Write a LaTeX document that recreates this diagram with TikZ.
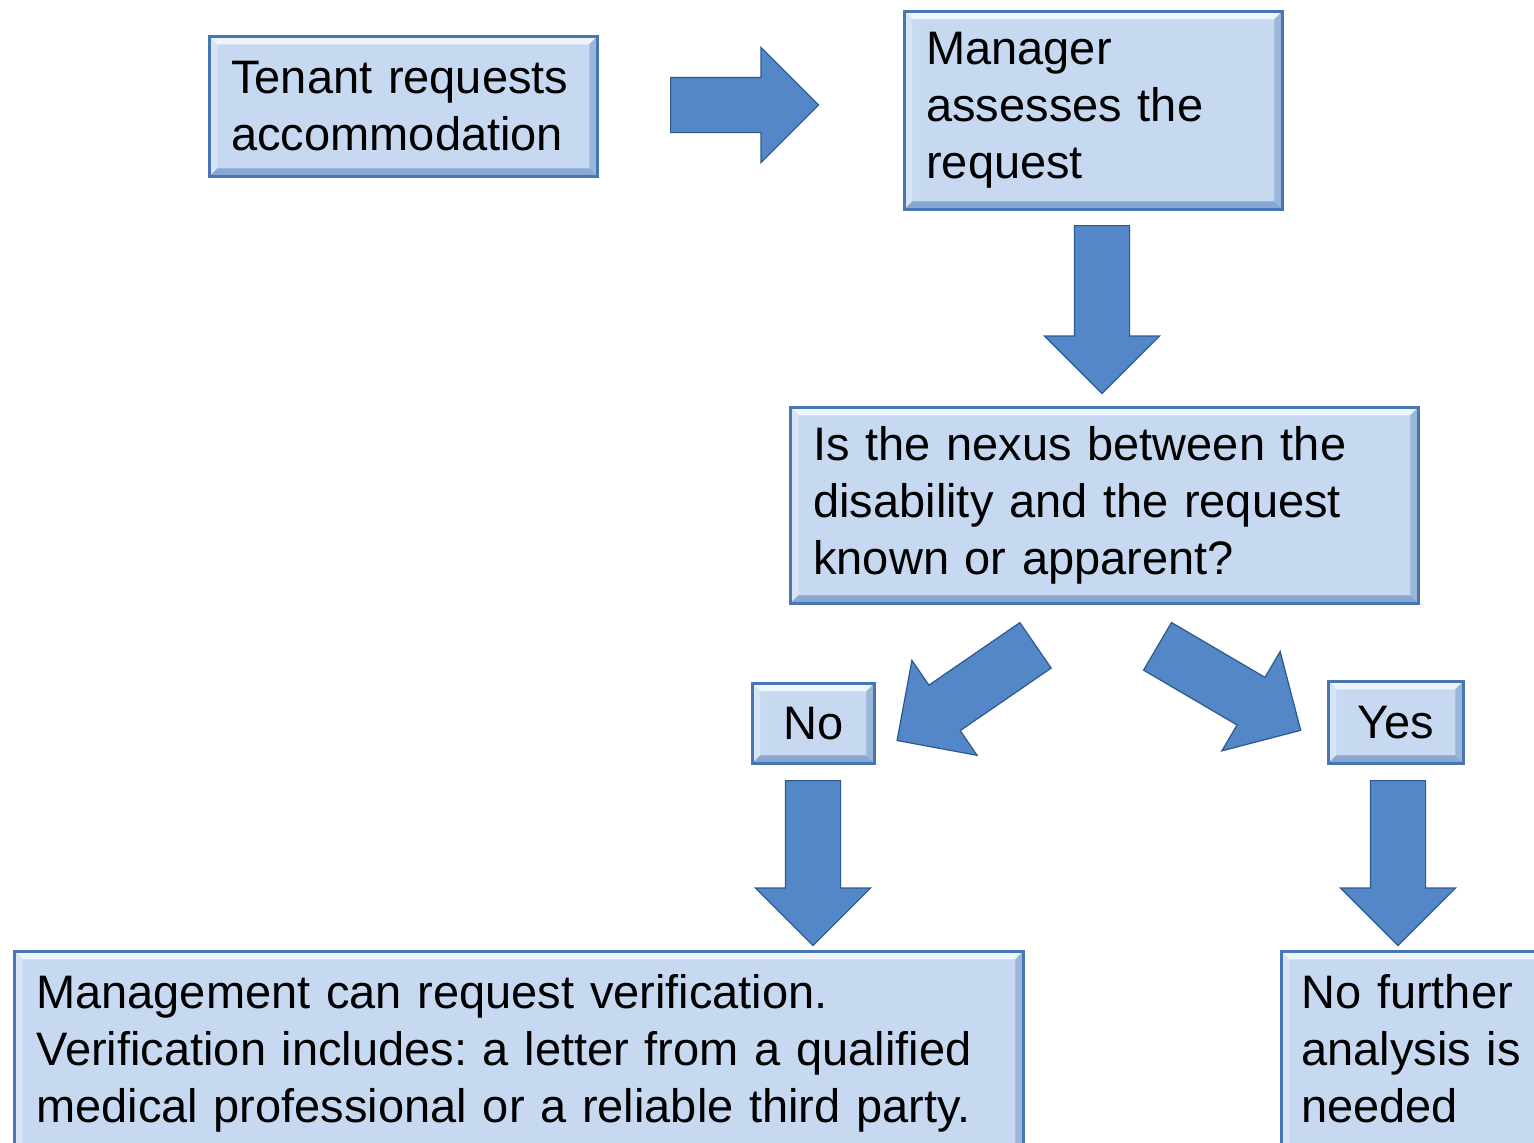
\documentclass[tikz,border=0pt]{standalone}
\usepackage{fontspec}
\setmainfont{Liberation Sans}
\usetikzlibrary{shapes.arrows,calc}
\definecolor{boxfill}{RGB}{198,217,241}
\definecolor{boxedge}{RGB}{72,118,178}
\definecolor{arrowfill}{RGB}{84,135,199}
\definecolor{arrowedge}{RGB}{45,88,140}
\tikzset{
  stepbox/.style={draw=boxedge, line width=1.3pt, fill=boxfill, anchor=north west,
    inner xsep=11pt, inner ysep=0pt, align=left,
    font=\fontsize{23.5pt}{28.5pt}\selectfont\frenchspacing,
    path picture={
      \coordinate (bbnw) at (path picture bounding box.north west);
      \coordinate (bbne) at (path picture bounding box.north east);
      \coordinate (bbsw) at (path picture bounding box.south west);
      \coordinate (bbse) at (path picture bounding box.south east);
      \fill[white!70!boxfill] (bbnw) -- (bbne) -- ([shift={(-4pt,-4pt)}]bbne) -- ([shift={(4pt,-4pt)}]bbnw) -- cycle;
      \fill[white!30!boxfill] (bbnw) -- (bbsw) -- ([shift={(4pt,4pt)}]bbsw) -- ([shift={(4pt,-4pt)}]bbnw) -- cycle;
      \fill[boxfill!65!boxedge] (bbne) -- (bbse) -- ([shift={(-4pt,4pt)}]bbse) -- ([shift={(-4pt,-4pt)}]bbne) -- cycle;
      \fill[boxfill!50!boxedge] (bbsw) -- (bbse) -- ([shift={(-4pt,4pt)}]bbse) -- ([shift={(4pt,4pt)}]bbsw) -- cycle;
    }},
  smallbox/.style={stepbox, align=center, inner xsep=0pt},
  blockarrow/.style={single arrow, draw=arrowedge, fill=arrowfill, line width=0.6pt,
    inner xsep=0pt, inner ysep=13.5pt, single arrow head extend=15pt, anchor=tail}
}
\begin{document}
\begin{tikzpicture}[x=0.5pt,y=-0.5pt]
\useasboundingbox (0,0) rectangle (1534,1142);
\fill[white] (0,0) rectangle (1534,1142);

% boxes
\node[stepbox, minimum width=194pt, minimum height=70pt, text width=172pt] (tenant) at (208,35) {Tenant requests\\accommodation};
\node[stepbox, minimum width=189pt, minimum height=99pt, text width=167pt] (manager) at (903,10) {Manager\\assesses the\\request};
\node[stepbox, minimum width=314pt, minimum height=98pt, text width=291pt, inner xsep=11.5pt] (nexus) at (789,406) {Is the nexus between the\\disability and the request\\known or apparent?};
\node[smallbox, minimum width=61pt, minimum height=40pt] (no) at (751,682) {No};
\node[smallbox, minimum width=67.5pt, minimum height=41pt] (yes) at (1327,680) {Yes};
\node[stepbox, minimum width=504.5pt, minimum height=102pt, text width=482.5pt] (mgmt) at (13,950) {Management can request verification.\\Verification includes: a letter from a qualified\\medical professional or a reliable third party.};
\node[stepbox, minimum width=140pt, minimum height=102pt, text width=120pt, inner xsep=10pt] (further) at (1280,950) {No further\\analysis is\\needed\vphantom{p}};

% block arrows
\node[blockarrow, minimum height=74pt] (a1) at (670,105) {};
\node[blockarrow, minimum height=84pt, rotate=-90] (a2) at (1102,225) {};
\node[blockarrow, minimum height=84pt, rotate=214.5] (a3) at (1036,645) {};
\node[blockarrow, minimum height=83pt, rotate=-30.4] (a4) at (1157,646) {};
\node[blockarrow, minimum height=82.5pt, rotate=-90] (a5) at (813,780) {};
\node[blockarrow, minimum height=82.5pt, rotate=-90] (a6) at (1398,780) {};
\end{tikzpicture}
\end{document}
